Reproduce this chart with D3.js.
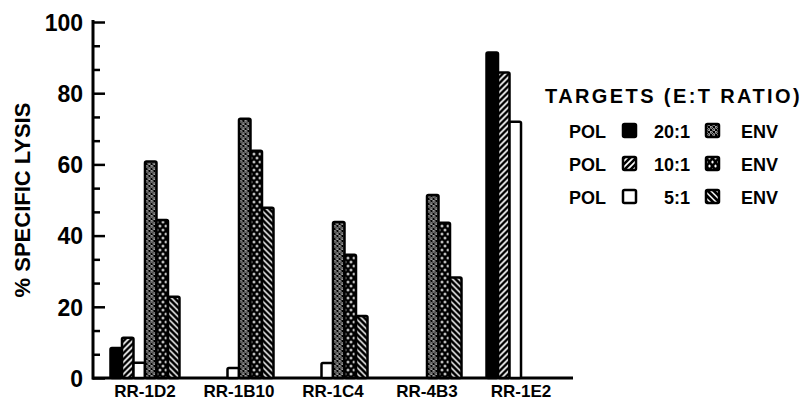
<!DOCTYPE html>
<html>
<head>
<meta charset="utf-8">
<script src="https://cdn.jsdelivr.net/npm/d3@7"></script>
<style>
  body { margin: 0; background: #fff; }
  text { font-family: "Liberation Sans", Arial, sans-serif; font-weight: bold; fill: #000; }
</style>
</head>
<body>
<svg id="svg" width="809" height="406"></svg>
<script>
'use strict'

var categories = ['RR-1D2', 'RR-1B10', 'RR-1C4', 'RR-4B3', 'RR-1E2'];
var seriesNames = ['pol20', 'pol10', 'pol5', 'env20', 'env10', 'env5'];
var pol20 = [8.4, 0, 0, 0, 91.4];
var pol10 = [11.3, 0, 0, 0, 85.8];
var pol5 = [4.3, 2.8, 4.2, 0, 72];
var env20 = [60.8, 72.8, 43.8, 51.4, 0];
var env10 = [44.4, 63.8, 34.6, 43.6, 0];
var env5 = [22.8, 47.8, 17.4, 28.2, 0];
var yTicks = [0, 20, 40, 60, 80, 100];
var legendRows = [
  {pol: 'pol20', ratio: '20:1', env: 'env20'},
  {pol: 'pol10', ratio: '10:1', env: 'env10'},
  {pol: 'pol5', ratio: '5:1', env: 'env5'}
];

var values = {pol20: pol20, pol10: pol10, pol5: pol5, env20: env20, env10: env10, env5: env5};
var fills = {
  pol20: '#000',
  pol10: 'url(#hatchFwd)',
  pol5: '#fff',
  env20: 'url(#fineDots)',
  env10: 'url(#bigDots)',
  env5: 'url(#hatchBack)'
};

var svg = d3.select('#svg');

// patterns used by the bars and the legend
var defs = svg.append('defs');

var p = defs.append('pattern').attr('id', 'hatchFwd')
    .attr('width', 6).attr('height', 6).attr('patternUnits', 'userSpaceOnUse');
p.append('rect').attr('width', 6).attr('height', 6).attr('fill', '#fff');
p.append('path').attr('d', 'M-1,7 L7,-1 M-4,4 L4,-4 M2,10 L10,2')
    .attr('stroke', '#000').attr('stroke-width', 2.6);

p = defs.append('pattern').attr('id', 'hatchBack')
    .attr('width', 6).attr('height', 6).attr('patternUnits', 'userSpaceOnUse');
p.append('rect').attr('width', 6).attr('height', 6).attr('fill', '#fff');
p.append('path').attr('d', 'M-1,-1 L7,7 M-4,2 L4,10 M2,-4 L10,4')
    .attr('stroke', '#000').attr('stroke-width', 2.8);

p = defs.append('pattern').attr('id', 'fineDots')
    .attr('width', 5).attr('height', 5).attr('patternUnits', 'userSpaceOnUse');
p.append('rect').attr('width', 5).attr('height', 5).attr('fill', '#000');
p.append('circle').attr('cx', 1.25).attr('cy', 1.25).attr('r', 1.1)
    .attr('fill', 'none').attr('stroke', '#fff').attr('stroke-width', 0.8);
p.append('circle').attr('cx', 3.75).attr('cy', 3.75).attr('r', 1.1)
    .attr('fill', 'none').attr('stroke', '#fff').attr('stroke-width', 0.8);

p = defs.append('pattern').attr('id', 'bigDots')
    .attr('width', 6).attr('height', 8).attr('patternUnits', 'userSpaceOnUse');
p.append('rect').attr('width', 6).attr('height', 8).attr('fill', '#000');
p.append('ellipse').attr('cx', 1.5).attr('cy', 2).attr('rx', 1.1).attr('ry', 1.6).attr('fill', '#fff');
p.append('ellipse').attr('cx', 4.5).attr('cy', 6).attr('rx', 1.1).attr('ry', 1.6).attr('fill', '#fff');

// scales
var y = d3.scaleLinear().domain([0, 100]).range([378, 22]);
var x0 = d3.scaleBand().domain(categories).range([93, 573])
    .paddingInner(0.266).paddingOuter(0.186);
var x1 = d3.scaleBand().domain(seriesNames).range([0, x0.bandwidth()]);

// y axis, ticks pointing into the plot, minor ticks every 20/3
var minor = d3.range(0, 100.01, 20 / 3).filter(function(d) {
  return Math.abs(d / 20 - Math.round(d / 20)) > 0.01;
});
svg.append('g').attr('transform', 'translate(93,0)')
    .call(d3.axisLeft(y).tickValues(minor).tickSize(-7).tickFormat(''))
    .call(function(g) { g.select('.domain').remove(); })
    .selectAll('line').attr('stroke', '#000').attr('stroke-width', 2.5);

var yAxis = svg.append('g').attr('transform', 'translate(93,0)')
    .call(d3.axisLeft(y).tickValues(yTicks).tickSize(-12).tickPadding(10));
yAxis.select('.domain').remove();
yAxis.selectAll('line').attr('stroke', '#000').attr('stroke-width', 2.5);
yAxis.selectAll('text').attr('font-size', 23).attr('dy', '0.36em')
    .style('font-family', '"Liberation Sans", Arial, sans-serif').style('font-weight', 'bold');

svg.append('line').attr('x1', 93).attr('x2', 93).attr('y1', y(100) - 2).attr('y2', y(0) + 1.5)
    .attr('stroke', '#000').attr('stroke-width', 3);
svg.append('line').attr('x1', 92).attr('x2', 573).attr('y1', y(0)).attr('y2', y(0))
    .attr('stroke', '#000').attr('stroke-width', 3);

// bars
var groups = svg.append('g').selectAll('g')
    .data(categories)
    .join('g')
    .attr('transform', function(d) { return 'translate(' + x0(d) + ',0)'; });

groups.selectAll('rect')
    .data(function(d, i) {
      return seriesNames.map(function(s) { return {key: s, value: values[s][i]}; })
        .filter(function(b) { return b.value > 0; });
    })
    .join('rect')
    .attr('x', function(d) { return x1(d.key); })
    .attr('y', function(d) { return y(d.value); })
    .attr('width', x1.bandwidth())
    .attr('height', function(d) { return y(0) - y(d.value); })
    .attr('rx', 1.5)
    .attr('fill', function(d) { return fills[d.key]; })
    .attr('stroke', '#000')
    .attr('stroke-width', 2.5);

// category labels
svg.append('g').selectAll('text')
    .data(categories)
    .join('text')
    .attr('x', function(d) { return x0(d) + x0.bandwidth() / 2; })
    .attr('y', 397)
    .attr('text-anchor', 'middle')
    .attr('font-size', 17)
    .text(function(d) { return d; });

// axis title
svg.append('text')
    .attr('transform', 'translate(30,200) rotate(-90)')
    .attr('text-anchor', 'middle')
    .attr('font-size', 22)
    .text('% SPECIFIC LYSIS');

// legend
svg.append('text')
    .attr('x', 545).attr('y', 103)
    .attr('font-size', 20)
    .attr('letter-spacing', 2.4)
    .text('TARGETS (E:T RATIO)');

var rows = svg.append('g').selectAll('g')
    .data(legendRows)
    .join('g')
    .attr('transform', function(d, i) { return 'translate(0,' + (131 + i * 33) + ')'; });

rows.append('text').attr('x', 569).attr('y', 6.5).attr('font-size', 18).text('POL');
rows.append('rect').attr('x', 623).attr('y', -7).attr('width', 13).attr('height', 13).attr('rx', 1.5)
    .attr('fill', function(d) { return fills[d.pol]; })
    .attr('stroke', '#000').attr('stroke-width', 2.5);
rows.append('text').attr('x', 690).attr('y', 6.5).attr('font-size', 18)
    .attr('text-anchor', 'end').text(function(d) { return d.ratio; });
rows.append('rect').attr('x', 706).attr('y', -7).attr('width', 13).attr('height', 13).attr('rx', 1.5)
    .attr('fill', function(d) { return fills[d.env]; })
    .attr('stroke', '#000').attr('stroke-width', 2.5);
rows.append('text').attr('x', 741).attr('y', 6.5).attr('font-size', 18).text('ENV');
</script>
</body>
</html>
